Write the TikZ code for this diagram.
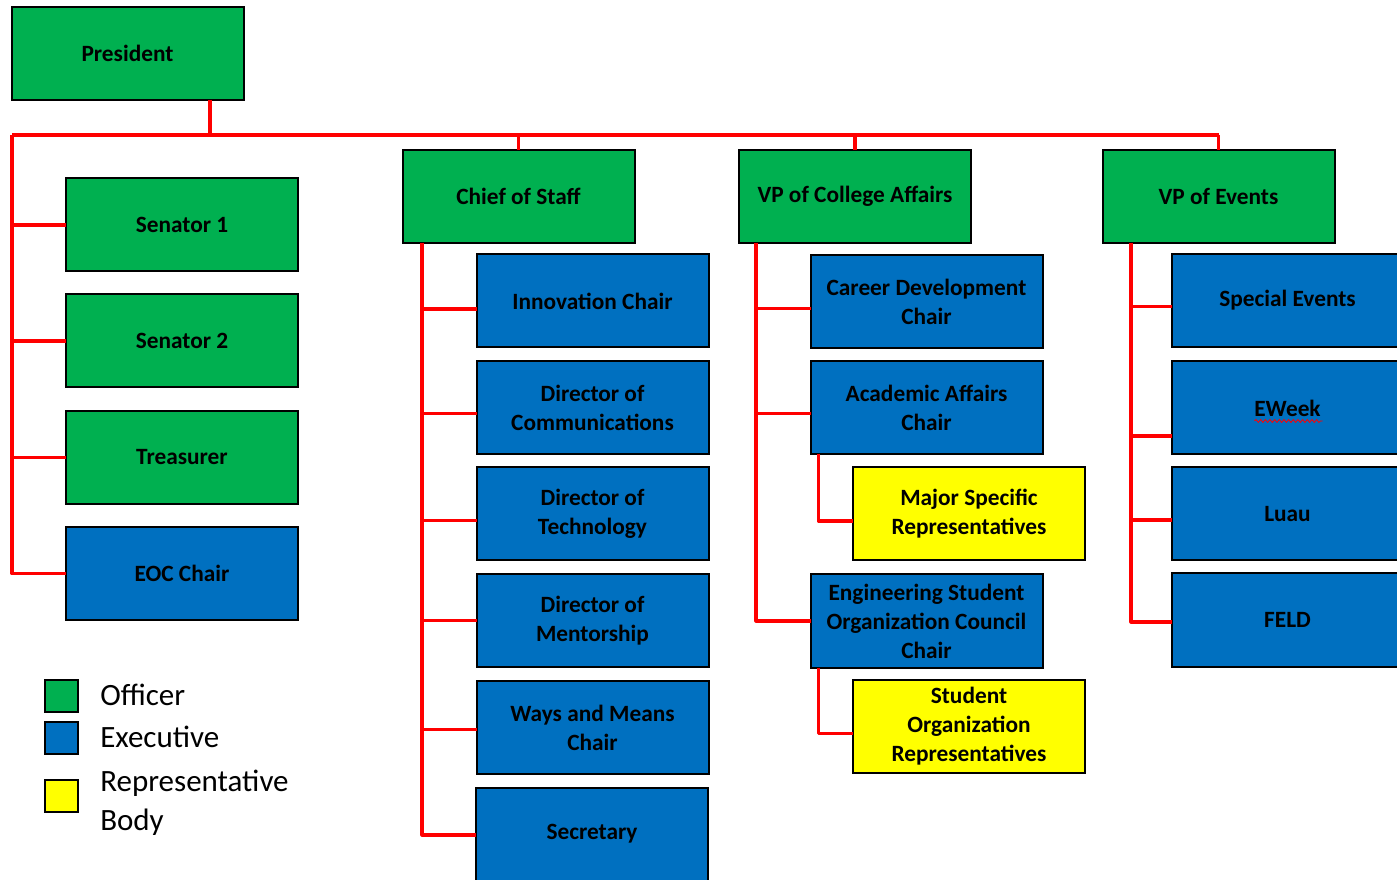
\documentclass[tikz,border=0pt]{standalone}
\usepackage{fontspec}
\setmainfont{Carlito}
\usetikzlibrary{calc,decorations.pathmorphing}
\definecolor{offgreen}{HTML}{00B050}
\definecolor{exblue}{HTML}{0070C0}
\definecolor{repyellow}{HTML}{FFFF00}
\definecolor{wirered}{HTML}{FF0000}
\begin{document}
\begin{tikzpicture}[x=0.75pt,y=-0.75pt,
  box/.style={draw=black,line width=1.5pt,minimum width=174pt,minimum height=69.75pt,
    inner sep=2pt,outer sep=0pt,align=center,text=black,
    font=\bfseries\fontsize{17.5}{21.75}\selectfont},
  officer/.style={box,fill=offgreen},
  exec/.style={box,fill=exblue},
  rep/.style={box,fill=repyellow},
  wire/.style={draw=wirered,line width=2.4pt,line join=round},
  legsq/.style={draw=black,line width=1.5pt,minimum width=24.75pt,minimum height=24pt,outer sep=0pt},
  legtxt/.style={anchor=west,align=left,inner sep=0pt,text=black,font=\fontsize{23.25}{29.25}\selectfont}]
\clip (0,0) rectangle (1397,880);
\fill[white] (0,0) rectangle (1397,880);

% boxes
\node[officer] (pres) at (127.5,53.5) {President};
\node[officer] (sen1) at (182,225) {Senator 1};
\node[officer] (sen2) at (182,341) {Senator 2};
\node[officer] (treas) at (182,457.5) {Treasurer};
\node[exec] (eoc) at (182,573.5) {EOC Chair};

\node[officer] (cos) at (518.5,196.5) {Chief of Staff};
\node[officer] (vpca) at (855,196.5) {VP of College Affairs};
\node[officer] (vpe) at (1218.5,196.5) {VP of Events};

\node[exec] (inno) at (592.5,301) {Innovation Chair};
\node[exec] (comm) at (592.5,407.5) {Director of\\Communications};
\node[exec] (tech) at (592.5,513.5) {Director of\\Technology};
\node[exec] (ment) at (592.5,620.5) {Director of\\Mentorship};
\node[exec] (ways) at (592.5,727.5) {Ways and Means\\Chair};
\node[exec] (sec) at (592,834) {Secretary};

\node[exec] (career) at (926.5,301.5) {Career Development\\Chair};
\node[exec] (acad) at (926.5,407.5) {Academic Affairs\\Chair};
\node[rep] (msr) at (969,514) {Major Specific\\Representatives};
\node[exec] (escc) at (926.5,621) {Engineering Student\\Organization Council\\Chair};
\node[rep] (sor) at (969,726.5) {Student\\Organization\\Representatives};

\node[exec] (se) at (1287.5,300.5) {Special Events};
\node[exec] (ew) at (1287.5,408) {EWeek};
\node[exec] (luau) at (1287.5,514) {Luau};
\node[exec] (feld) at (1287.5,620) {FELD};

% spell-check underline
\draw[wirered,line width=0.6pt,decorate,decoration={snake,amplitude=1.1pt,segment length=3.5pt}]
  ($(ew.center)+(-33,13)$) -- ($(ew.center)+(35,13)$);

% connectors
\coordinate (busL) at (12,135);
\coordinate (busR) at (1219,135);
\draw[wire] ($(pres.south)+(82.5,0)$) -- ($(pres.south)+(82.5,35)$);
\draw[wire] (busL) -- (busR);
\draw[wire] (cos.north) -- (cos.north |- busL);
\draw[wire] (vpca.north) -- (vpca.north |- busL);
\draw[wire] (vpe.north) -- (vpe.north |- busL);

\draw[wire] (busL) |- (eoc.west);
\draw[wire] (busL |- sen1.west) -- (sen1.west);
\draw[wire] (busL |- sen2.west) -- (sen2.west);
\draw[wire] (busL |- treas.west) -- (treas.west);

\coordinate (tA) at (422,243);
\draw[wire] (tA) |- ($(sec.west)+(0,1)$);
\draw[wire] (tA |- {$(inno.west)+(0,8)$}) -- ($(inno.west)+(0,8)$);
\draw[wire] (tA |- {$(comm.west)+(0,6)$}) -- ($(comm.west)+(0,6)$);
\draw[wire] (tA |- {$(tech.west)+(0,7)$}) -- ($(tech.west)+(0,7)$);
\draw[wire] (tA |- ment.west) -- (ment.west);
\draw[wire] (tA |- {$(ways.west)+(0,2)$}) -- ($(ways.west)+(0,2)$);

\coordinate (tB) at (756,243);
\draw[wire] (tB) |- (escc.west);
\draw[wire] (tB |- {$(career.west)+(0,7)$}) -- ($(career.west)+(0,7)$);
\draw[wire] (tB |- {$(acad.west)+(0,6)$}) -- ($(acad.west)+(0,6)$);
\draw[wire] ($(acad.south west)+(8,0)$) |- ($(msr.west)+(0,7)$);
\draw[wire] ($(escc.south west)+(8,0)$) |- ($(sor.west)+(0,7)$);

\coordinate (tC) at (1131,243);
\draw[wire] (tC) |- ($(feld.west)+(0,2)$);
\draw[wire] (tC |- {$(se.west)+(0,6)$}) -- ($(se.west)+(0,6)$);
\draw[wire] (tC |- {$(ew.west)+(0,28)$}) -- ($(ew.west)+(0,28)$);
\draw[wire] (tC |- {$(luau.west)+(0,6)$}) -- ($(luau.west)+(0,6)$);

% legend
\node[legsq,fill=offgreen] (lg1) at (61.5,696) {};
\node[legsq,fill=exblue] (lg2) at (61.5,737.5) {};
\node[legsq,fill=repyellow] (lg3) at (61.5,795.5) {};
\node[legtxt] (lt1) at (100,695) {Officer};
\node[legtxt] (lt2) at (100,737) {Executive};
\node[legtxt] (lt3) at (100,803) {Representative\\Body};
\end{tikzpicture}
\end{document}
